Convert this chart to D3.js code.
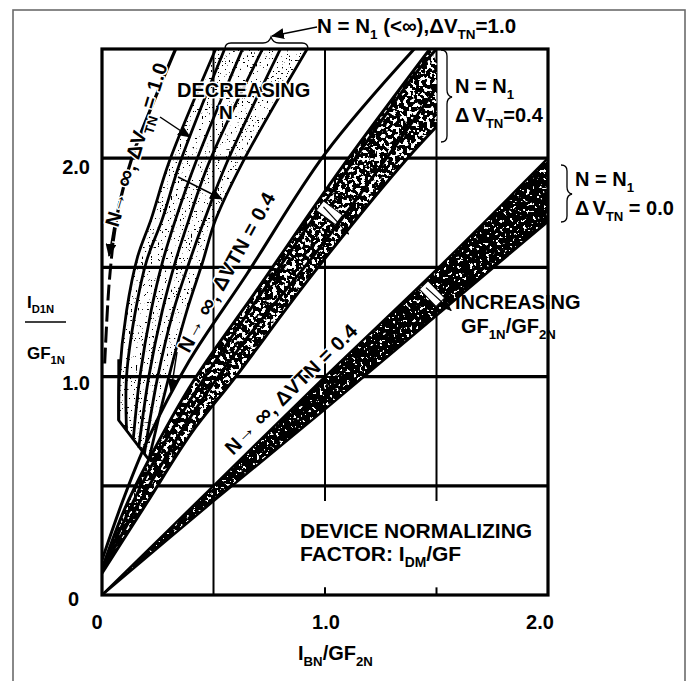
<!DOCTYPE html>
<html>
<head>
<meta charset="utf-8">
<script src="https://cdn.jsdelivr.net/npm/d3@7"></script>
<style>
  html, body { margin: 0; padding: 0; background: #fff; }
  svg { display: block; }
</style>
</head>
<body>
<svg id="chart" width="689" height="681"></svg>
<script>
// ---------- axis data ----------
const xTicks = [0, 1, 2];
const xTickLabels = ["0", "1.0", "2.0"];
const yTicks = [0, 1, 2];
const yTickLabels = ["0", "1.0", "2.0"];
const gridRows = [0.5, 1.0, 1.5, 2.0];
const gridColsFull = [0.5];
const gridColsShort = [1.0, 1.5];

// ---------- curves (x = IBN/GF2N, y = ID1N/GF1N) ----------
// N = N1, ΔVTN = 0.0 band
const bandA_upper = [[0, 0], [0.5, 0.5], [1.0, 1.0], [1.5, 1.49], [2.0, 2.0]];
const bandA_lower = [[0, 0], [0.5, 0.43], [1.0, 0.85], [1.5, 1.28], [2.0, 1.71]];

// N = N1, ΔVTN = 0.4 band (ends at x = 1.5)
const bandB_upper = [[0, 0.12], [0.1, 0.39], [0.2, 0.6], [0.41, 0.98], [0.69, 1.39], [1.07, 1.95], [1.47, 2.5]];
const bandB_mid1  = [[0, 0.115], [0.2, 0.55], [0.4, 0.9], [0.66, 1.3], [1.0, 1.8], [1.4, 2.38], [1.5, 2.5]];
const bandB_mid2  = [[0, 0.11], [0.2, 0.48], [0.4, 0.82], [0.63, 1.15], [1.0, 1.62], [1.45, 2.25], [1.55, 2.4]];
const bandB_lower = [[0, 0.1], [0.2, 0.42], [0.4, 0.74], [0.6, 1.0], [0.93, 1.45], [1.37, 2.0], [1.6, 2.25]];

// N -> ∞, ΔVTN = 0.4 limit line
const limit04 = [[0, 0.16], [0.1, 0.45], [0.2, 0.7], [0.39, 1.07], [0.65, 1.47], [1.0, 2.02], [1.40, 2.5]];

// N -> ∞, ΔVTN = 1.0 limit line (dashed lower part, solid upper part)
const limit10_dashed = [[0.012, 1.06], [0.03, 1.4], [0.05, 1.62]];
const limit10_solid  = [[0.05, 1.62], [0.08, 1.8], [0.14, 2.02], [0.24, 2.28], [0.33, 2.5]];

// N = N1 (<∞), ΔVTN = 1.0 family
const fanEnvelope = [[0.075, 1.08], [0.075, 0.80], [0.21, 0.62]];
const fan1 = [[0.075, 0.80], [0.078, 1.0], [0.11, 1.3], [0.16, 1.55], [0.22, 1.72], [0.30, 1.98], [0.51, 2.5]];
const fan2 = [[0.11, 0.755], [0.11, 1.0], [0.15, 1.3], [0.20, 1.53], [0.27, 1.72], [0.35, 1.98], [0.55, 2.5]];
const fan3 = [[0.14, 0.71], [0.17, 1.0], [0.22, 1.3], [0.27, 1.52], [0.33, 1.72], [0.42, 1.98], [0.63, 2.5]];
const fan4 = [[0.165, 0.675], [0.21, 1.0], [0.27, 1.3], [0.33, 1.53], [0.39, 1.72], [0.48, 1.98], [0.72, 2.5]];
const fan5 = [[0.19, 0.645], [0.25, 1.0], [0.32, 1.3], [0.39, 1.52], [0.46, 1.72], [0.56, 1.98], [0.80, 2.5]];
const fan6 = [[0.21, 0.62], [0.30, 1.0], [0.38, 1.3], [0.45, 1.52], [0.51, 1.72], [0.63, 1.98], [0.92, 2.5]];
const fanCurves = [fan1, fan2, fan3, fan4, fan5, fan6];

// ---------- layout ----------
const FONT = "'Liberation Sans', Arial, Helvetica, sans-serif";
const svg = d3.select("#chart");
const x = d3.scaleLinear().domain([0, 2]).range([102, 548]);
const y = d3.scaleLinear().domain([0, 2.5]).range([595, 49]);

const line = d3.line()
  .x(d => x(d[0])).y(d => y(d[1]))
  .curve(d3.curveCatmullRom.alpha(0.5));
const straight = d3.line().x(d => x(d[0])).y(d => y(d[1]));

function bandPath(up, lo) {
  const a = line(up);
  const b = line(lo.slice().reverse());
  return a + "L" + b.slice(1) + "Z";
}

svg.append("rect").attr("width", 689).attr("height", 681).attr("fill", "#fff");
// page frame
svg.append("rect").attr("x", 13).attr("y", 10).attr("width", 672).attr("height", 690)
  .attr("fill", "none").attr("stroke", "#6b6b6b").attr("stroke-width", 1.6);

const defs = svg.append("defs");
defs.append("clipPath").attr("id", "plotClip").append("rect")
  .attr("x", x(0)).attr("y", y(2.5)).attr("width", x(2) - x(0)).attr("height", y(0) - y(2.5));
defs.append("clipPath").attr("id", "bandBClip").append("rect")
  .attr("x", x(0)).attr("y", y(2.5)).attr("width", x(1.5) - x(0)).attr("height", y(0) - y(2.5));

// stipple textures: noise thresholded into specks, kept inside the source shape
function speckFilter(id, freq, octaves, seed, threshold, white) {
  const f = defs.append("filter").attr("id", id)
    .attr("color-interpolation-filters", "sRGB")
    .attr("x", "-5%").attr("y", "-5%").attr("width", "110%").attr("height", "110%");
  f.append("feTurbulence").attr("type", "fractalNoise")
    .attr("baseFrequency", freq).attr("numOctaves", octaves).attr("seed", seed).attr("result", "noise");
  const c = white ? 1 : 0;
  f.append("feColorMatrix").attr("in", "noise").attr("type", "matrix")
    .attr("values", `0 0 0 0 ${c}  0 0 0 0 ${c}  0 0 0 0 ${c}  1 0 0 0 0`).attr("result", "tone");
  const ct = f.append("feComponentTransfer").attr("in", "tone").attr("result", "mask");
  ct.append("feFuncA").attr("type", "linear").attr("slope", 30).attr("intercept", -30 * threshold);
  f.append("feComposite").attr("in", "mask").attr("in2", "SourceGraphic").attr("operator", "in");
}
speckFilter("specksA", 0.3, 2, 7, 0.635, true);
speckFilter("specksB", 0.26, 2, 3, 0.525, true);
speckFilter("dotsFan", 0.55, 1, 11, 0.67, false);

// arrowhead markers
defs.append("marker").attr("id", "head")
  .attr("viewBox", "0 0 12 10").attr("refX", 11).attr("refY", 5)
  .attr("markerUnits", "userSpaceOnUse").attr("markerWidth", 13).attr("markerHeight", 11)
  .attr("orient", "auto")
  .append("path").attr("d", "M0,0 L12,5 L0,10 Z").attr("fill", "#000");
defs.append("marker").attr("id", "headSmall")
  .attr("viewBox", "0 0 12 10").attr("refX", 11).attr("refY", 5)
  .attr("markerUnits", "userSpaceOnUse").attr("markerWidth", 9).attr("markerHeight", 8)
  .attr("orient", "auto")
  .append("path").attr("d", "M0,0 L12,5 L0,10 Z").attr("fill", "#000");

// ---------- grid ----------
const grid = svg.append("g").attr("stroke", "#000");
grid.selectAll("line.row").data(gridRows).join("line").attr("class", "row")
  .attr("x1", x(0)).attr("x2", x(2)).attr("y1", d => y(d)).attr("y2", d => y(d))
  .attr("stroke-width", 3.2);
grid.selectAll("line.colF").data(gridColsFull).join("line").attr("class", "colF")
  .attr("x1", d => x(d)).attr("x2", d => x(d)).attr("y1", y(0)).attr("y2", y(2.5))
  .attr("stroke-width", 2);
grid.selectAll("line.colS").data(gridColsShort).join("line").attr("class", "colS")
  .attr("x1", d => x(d)).attr("x2", d => x(d)).attr("y1", y(0.43)).attr("y2", y(2.5))
  .attr("stroke-width", 2);
grid.selectAll("line.tick").data(gridColsShort).join("line").attr("class", "tick")
  .attr("x1", d => x(d)).attr("x2", d => x(d)).attr("y1", y(0)).attr("y2", y(0.035))
  .attr("stroke-width", 2);

const plot = svg.append("g").attr("clip-path", "url(#plotClip)");

// ---------- ΔVTN = 1.0 family ----------
const fanArea = line(fan1) + "L" + line(fan6.slice().reverse()).slice(1) + "Z";
plot.append("path").attr("d", fanArea).attr("fill", "#000").attr("filter", "url(#dotsFan)");

// ---------- bands ----------
const bandAPath = bandPath(bandA_upper, bandA_lower);
plot.append("path").attr("d", bandAPath).attr("fill", "#000");
plot.append("path").attr("d", bandAPath).attr("fill", "#fff").attr("filter", "url(#specksA)");

const bandB = plot.append("g").attr("clip-path", "url(#bandBClip)");
const bandBPath = bandPath(bandB_upper, bandB_lower);
bandB.append("path").attr("d", bandBPath).attr("fill", "#000");
bandB.append("path").attr("d", bandBPath).attr("fill", "#fff").attr("filter", "url(#specksB)");
bandB.selectAll("path.edge").data([bandB_upper, bandB_mid1, bandB_mid2, bandB_lower]).join("path")
  .attr("class", "edge").attr("d", line).attr("fill", "none").attr("stroke", "#000").attr("stroke-width", 3);

plot.selectAll("path.bandAEdge").data([bandA_upper, bandA_lower]).join("path")
  .attr("class", "bandAEdge").attr("d", line).attr("fill", "none").attr("stroke", "#000").attr("stroke-width", 2.5);

// ---------- limit and family lines ----------
plot.append("path").attr("d", line(limit04)).attr("fill", "none")
  .attr("stroke", "#000").attr("stroke-width", 3);
plot.selectAll("path.fan").data(fanCurves).join("path").attr("class", "fan")
  .attr("d", line).attr("fill", "none").attr("stroke", "#000").attr("stroke-width", 2.8);
plot.append("path").attr("d", straight(fanEnvelope)).attr("fill", "none")
  .attr("stroke", "#000").attr("stroke-width", 2.8);
plot.append("path").attr("d", line(limit10_dashed)).attr("fill", "none")
  .attr("stroke", "#000").attr("stroke-width", 3).attr("stroke-dasharray", "16,5");
plot.append("path").attr("d", line(limit10_solid)).attr("fill", "none")
  .attr("stroke", "#000").attr("stroke-width", 3.2);

// plot frame
svg.append("rect").attr("x", x(0)).attr("y", y(2.5)).attr("width", x(2) - x(0)).attr("height", y(0) - y(2.5))
  .attr("fill", "none").attr("stroke", "#000").attr("stroke-width", 3.2);

// ---------- gap markers inside the bands ----------
function gapBox(cx, cy, ang, x2, y2) {
  const g = svg.append("g");
  g.append("rect").attr("x", -12).attr("y", -6).attr("width", 24).attr("height", 12)
    .attr("transform", `translate(${cx},${cy}) rotate(${ang})`)
    .attr("fill", "#fff").attr("stroke", "#000").attr("stroke-width", 1);
  g.append("line").attr("x1", cx - 6).attr("y1", cy - 6).attr("x2", x2).attr("y2", y2)
    .attr("stroke", "#000").attr("stroke-width", 1.2).attr("marker-end", "url(#headSmall)");
}
gapBox(x(1.48), y(1.38), 46, x(1.53) + 8, y(1.33) + 6);
gapBox(x(1.02), y(1.75), 37, x(1.07) + 8, y(1.68) + 6);

// ---------- arrows ----------
function arrow(x1, y1, x2, y2, w) {
  svg.append("line").attr("x1", x1).attr("y1", y1).attr("x2", x2).attr("y2", y2)
    .attr("stroke", "#000").attr("stroke-width", w || 1.5).attr("marker-end", "url(#head)");
}
arrow(317, 27, 272, 36);
arrow(160, 117, 190, 137);
arrow(178, 177, 222, 199);
arrow(114, 226, 109, 256);
arrow(177, 352, 171, 391);

// braces
svg.append("path")
  .attr("d", "M225,49 Q225,43 231,43 L263,43 Q269,43 271,37 Q273,43 279,43 L302,43 Q308,43 308,49")
  .attr("fill", "none").attr("stroke", "#000").attr("stroke-width", 1.3);
svg.append("path")
  .attr("d", "M441,50 Q447,50 447,56 L447,90 Q447,96 452,97 Q447,98 447,104 L447,136 Q447,142 441,142")
  .attr("fill", "none").attr("stroke", "#000").attr("stroke-width", 1.3);
svg.append("path")
  .attr("d", "M561,165 Q567,165 567,171 L567,187 Q567,193 572,194 Q567,195 567,201 L567,216 Q567,222 561,222")
  .attr("fill", "none").attr("stroke", "#000").attr("stroke-width", 1.3);

// ---------- text ----------
function rich(parent, px, py, parts, size, opts) {
  opts = opts || {};
  const t = parent.append("text")
    .attr("font-family", FONT).attr("font-weight", "bold").attr("font-size", size)
    .attr("fill", "#000");
  if (opts.rotate !== undefined) t.attr("transform", `translate(${px},${py}) rotate(${opts.rotate})`);
  else t.attr("x", px).attr("y", py);
  if (opts.anchor) t.attr("text-anchor", opts.anchor);
  if (opts.spacing) t.attr("letter-spacing", opts.spacing);
  if (opts.halo) t.attr("stroke", "#fff").attr("stroke-width", 3).attr("paint-order", "stroke").attr("stroke-linejoin", "round");
  let shift = 0;
  parts.forEach(p => {
    const target = p.sub ? size * 0.3 : (p.up ? -size * 0.1 : 0);
    const fs = p.sub ? size * 0.66 : (p.big ? size * 1.2 : size);
    const ts = t.append("tspan").attr("dy", target - shift).attr("font-size", fs).text(p.t);
    if (p.dx) ts.attr("dx", p.dx);
    shift = target;
  });
  return t;
}
const txt = svg.append("g");

rich(txt, 317, 33, [{t: "N = N"}, {t: "1", sub: 1}, {t: " (<∞),ΔV"}, {t: "TN", sub: 1}, {t: "=1.0"}], 20.5);
rich(txt, 177, 97, [{t: "DECREASING"}], 20, {halo: 1});
rich(txt, 219, 119, [{t: "N"}], 19, {halo: 1});
rich(txt, 455, 93, [{t: "N = N"}, {t: "1", sub: 1}], 20);
rich(txt, 455, 122, [{t: "Δ"}, {t: "V", dx: 3}, {t: "TN", sub: 1}, {t: "=0.4"}], 20);
rich(txt, 575, 186, [{t: "N = N"}, {t: "1", sub: 1}], 20);
rich(txt, 575, 215, [{t: "Δ"}, {t: "V", dx: 3}, {t: "TN", sub: 1}, {t: " = 0.0"}], 20);
rich(txt, 455, 309, [{t: "INCREASING"}], 20);
rich(txt, 461, 333, [{t: "GF"}, {t: "1N", sub: 1}, {t: "/GF"}, {t: "2N", sub: 1}], 20);
rich(txt, 300, 538, [{t: "DEVICE NORMALIZING"}], 21);
rich(txt, 300, 561, [{t: "FACTOR: I"}, {t: "DM", sub: 1}, {t: "/GF"}], 21);

// rotated curve labels
rich(txt, 118, 228, [{t: "N"}, {t: "→", up: 1}, {t: " "}, {t: "∞", big: 1}, {t: ", ΔV"}, {t: "TN", sub: 1}, {t: " = 1.0"}], 20, {rotate: -73, halo: 1, spacing: 0.4});
rich(txt, 189, 354, [{t: "N"}, {t: "→", up: 1}, {t: " "}, {t: "∞", big: 1}, {t: ", ΔVTN = 0.4"}], 20, {rotate: -61, halo: 1, spacing: 0.4});
rich(txt, 233, 456, [{t: "N"}, {t: "→", up: 1}, {t: " "}, {t: "∞", big: 1}, {t: ", ΔVTN = 0.4"}], 20, {rotate: -44.5, halo: 1, spacing: 0.2});

// axis titles
rich(txt, 298, 660, [{t: "I"}, {t: "BN", sub: 1}, {t: "/GF"}, {t: "2N", sub: 1}], 20);
rich(txt, 27, 308, [{t: "I"}, {t: "D1N", sub: 1}], 17);
svg.append("line").attr("x1", 25).attr("x2", 66).attr("y1", 322).attr("y2", 322)
  .attr("stroke", "#000").attr("stroke-width", 1.5);
rich(txt, 27, 359, [{t: "GF"}, {t: "1N", sub: 1}], 17);

// tick labels
const xOffsets = [-5, 1, -8];
txt.selectAll("text.xt").data(xTicks).join("text").attr("class", "xt")
  .attr("x", (d, i) => x(d) + xOffsets[i]).attr("y", 629)
  .attr("text-anchor", "middle").attr("font-family", FONT).attr("font-weight", "bold").attr("font-size", 20)
  .text((d, i) => xTickLabels[i]);
const yOffsets = [11, 13, 16];
const yRight = [79, 90, 90];
txt.selectAll("text.yt").data(yTicks).join("text").attr("class", "yt")
  .attr("x", (d, i) => yRight[i]).attr("y", (d, i) => y(d) + yOffsets[i])
  .attr("text-anchor", "end").attr("font-family", FONT).attr("font-weight", "bold").attr("font-size", 20)
  .text((d, i) => yTickLabels[i]);
</script>
</body>
</html>
